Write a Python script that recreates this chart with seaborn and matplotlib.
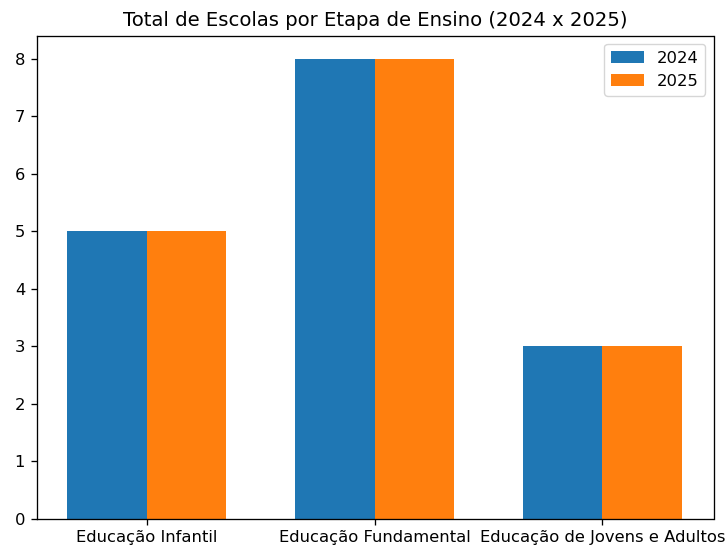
import matplotlib
matplotlib.use("Agg")
import matplotlib.pyplot as plt
import seaborn as sns
import pandas as pd

categorias = ["Educação Infantil", "Educação Fundamental", "Educação de Jovens e Adultos"]
anos = ["2024", "2025"]
valores_2024 = [5, 8, 3]
valores_2025 = [5, 8, 3]

df = pd.DataFrame({
    "Etapa": categorias * 2,
    "Ano": [anos[0]] * 3 + [anos[1]] * 3,
    "Total": valores_2024 + valores_2025,
})

s = 1.18
plt.rcParams.update({
    "font.size": 10 * s,
    "axes.linewidth": 0.8 * s,
    "xtick.major.width": 0.8 * s,
    "ytick.major.width": 0.8 * s,
    "xtick.major.size": 3.5 * s,
    "ytick.major.size": 3.5 * s,
    "xtick.major.pad": 3.5 * s,
    "ytick.major.pad": 3.5 * s,
})

fig, ax = plt.subplots(figsize=(7.27, 5.5), dpi=100)
sns.barplot(data=df, x="Etapa", y="Total", hue="Ano", order=categorias, hue_order=anos,
            palette=["#1f77b4", "#ff7f0e"], width=0.7, saturation=1, ax=ax, errorbar=None)
ax.set_xlim(-0.483, 2.487)
ax.set_ylim(0, 8.4)
ax.set_xlabel("")
ax.set_ylabel("")
ax.tick_params(labelsize=10 * s)
ax.set_title("Total de Escolas por Etapa de Ensino (2024 x 2025)", fontsize=12 * s, pad=6 * s)
handles, labels = ax.get_legend_handles_labels()
ax.legend(handles, labels, loc="upper right", fontsize=10 * s)
fig.subplots_adjust(left=36.5 / 727, right=713.5 / 727, top=1 - 36 / 550, bottom=1 - 518.7 / 550)
fig.savefig("out.png", dpi=100)
